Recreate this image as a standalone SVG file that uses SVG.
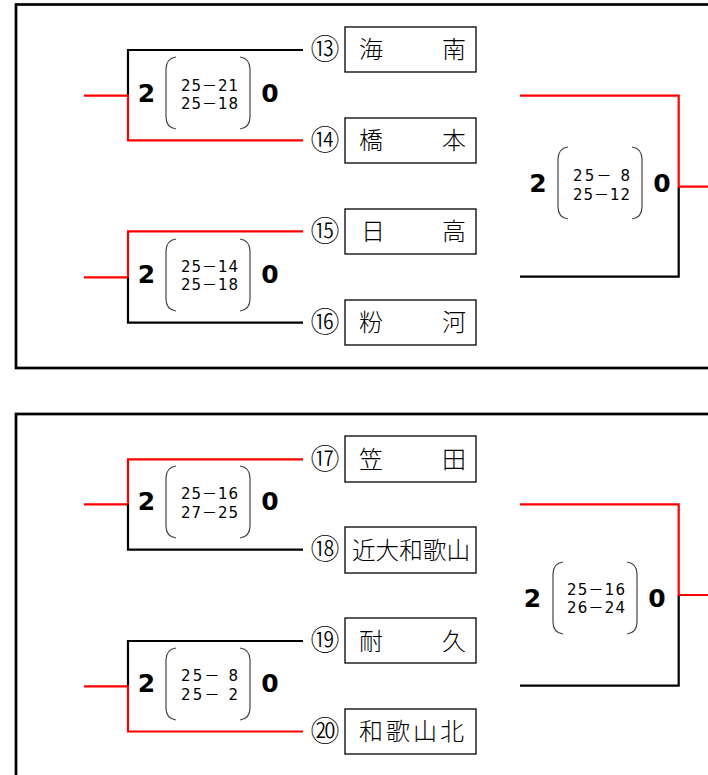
<svg xmlns="http://www.w3.org/2000/svg" width="708" height="775" viewBox="0 0 708 775">
<style>
.frame{fill:none;stroke:#000;stroke-width:2.7}
.box{fill:#fff;stroke:#000;stroke-width:1.3}
.team{font-family:"Noto Sans CJK JP","Noto Sans CJK SC",sans-serif;font-size:24px;font-weight:300;fill:#000}
.num{font-family:"Noto Sans CJK JP","Noto Sans CJK SC",serif;font-size:29px;font-weight:300;fill:#000;text-anchor:middle}
.ln{fill:none;stroke-width:2.2;stroke-linejoin:miter;stroke-linecap:butt}
.blk{stroke:#000}
.red{stroke:#ff0000}
.big{font-family:"DejaVu Sans",sans-serif;font-weight:bold;font-size:25px;fill:#000;text-anchor:middle}
.set{font-family:"DejaVu Sans","Noto Sans CJK JP",sans-serif;font-size:15px;fill:#000}
.par{fill:none;stroke:#444;stroke-width:1.2}
</style>
<defs>
<g id="parens">
<path class="par" d="M10 0 C3 1 0 5 0 12 L0 60 C0 67 3 71 10 72"/>
<path class="par" d="M74 0 C81 1 84 5 84 12 L84 60 C84 67 81 71 74 72"/>
</g>
</defs>
<rect class="frame" x="16" y="4.5" width="720" height="363.5"/>
<rect class="frame" x="16" y="414" width="720" height="400"/>

<g id="connectors">
<path class="ln blk" d="M303 50 H128 V95.7"/>
<path class="ln red" d="M84 95.7 H128 V140.3 H303"/>
<path class="ln red" d="M303 231.3 H128 V277.4 H84"/>
<path class="ln blk" d="M128 277.4 V322.7 H303"/>
<path class="ln blk" d="M520 276.7 H678.7 V186.7"/>
<path class="ln red" d="M520 95.7 H678.7 V186.7 H710"/>
<path class="ln red" d="M303 459.3 H128 V504.3 H84"/>
<path class="ln blk" d="M128 504.3 V549.7 H303"/>
<path class="ln blk" d="M303 641 H128 V686.3"/>
<path class="ln red" d="M84 686.3 H128 V731.5 H303"/>
<path class="ln blk" d="M520 685.7 H678.7 V595"/>
<path class="ln red" d="M520 504.3 H678.7 V595 H710"/>
</g>

<g id="team13"><text class="num" x="325" y="60">⑬</text><rect class="box" x="345" y="27" width="131" height="45"/><text class="team" x="359" y="58" textLength="107" lengthAdjust="spacing">海　　南</text></g>
<g id="team14"><text class="num" x="325" y="150.5">⑭</text><rect class="box" x="345" y="118" width="131" height="45"/><text class="team" x="359" y="149" textLength="107" lengthAdjust="spacing">橋　　本</text></g>
<g id="team15"><text class="num" x="325" y="241.5">⑮</text><rect class="box" x="345" y="209" width="131" height="45"/><text class="team" x="361" y="240" textLength="105" lengthAdjust="spacing">日　　高</text></g>
<g id="team16"><text class="num" x="325" y="333">⑯</text><rect class="box" x="345" y="300" width="131" height="45"/><text class="team" x="359" y="331" textLength="107" lengthAdjust="spacing">粉　　河</text></g>

<g id="team17"><text class="num" x="325" y="469.5">⑰</text><rect class="box" x="345" y="436" width="131" height="46"/><text class="team" x="359" y="467.5" textLength="107" lengthAdjust="spacing">笠　　田</text></g>
<g id="team18"><text class="num" x="325" y="560">⑱</text><rect class="box" x="345" y="527" width="131" height="46"/><text class="team" x="352" y="558.5" textLength="118" lengthAdjust="spacingAndGlyphs">近大和歌山</text></g>
<g id="team19"><text class="num" x="325" y="651">⑲</text><rect class="box" x="345" y="618" width="131" height="45"/><text class="team" x="359" y="649.5" textLength="107" lengthAdjust="spacing">耐　　久</text></g>
<g id="team20"><text class="num" x="325" y="742">⑳</text><rect class="box" x="345" y="709" width="131" height="45"/><text class="team" x="359" y="740" textLength="105" lengthAdjust="spacing">和歌山北</text></g>

<g id="score1">
<text class="big" x="146.5" y="101.7">2</text><use href="#parens" x="166" y="57"/>
<text class="set" x="181" y="90.5" textLength="57" lengthAdjust="spacing">25－21</text>
<text class="set" x="181" y="109" textLength="57" lengthAdjust="spacing">25－18</text>
<text class="big" x="270" y="101.7">0</text>
</g>
<g id="score2">
<text class="big" x="146.5" y="283.3">2</text><use href="#parens" x="166" y="239"/>
<text class="set" x="181" y="271.7" textLength="57" lengthAdjust="spacing">25－14</text>
<text class="set" x="181" y="290" textLength="57" lengthAdjust="spacing">25－18</text>
<text class="big" x="270" y="283.3">0</text>
</g>
<g id="score3">
<text class="big" x="538" y="192">2</text><use href="#parens" x="558" y="147"/>
<text class="set" x="573" y="181" textLength="57" lengthAdjust="spacing">25－ 8</text>
<text class="set" x="573" y="200" textLength="57" lengthAdjust="spacing">25－12</text>
<text class="big" x="662" y="192">0</text>
</g>
<g id="score4">
<text class="big" x="146.5" y="510">2</text><use href="#parens" x="166" y="466"/>
<text class="set" x="181" y="499" textLength="57" lengthAdjust="spacing">25－16</text>
<text class="set" x="181" y="518" textLength="57" lengthAdjust="spacing">27－25</text>
<text class="big" x="270" y="510">0</text>
</g>
<g id="score5">
<text class="big" x="146.5" y="692">2</text><use href="#parens" x="166" y="648"/>
<text class="set" x="181" y="680.7" textLength="57" lengthAdjust="spacing">25－ 8</text>
<text class="set" x="181" y="700" textLength="57" lengthAdjust="spacing">25－ 2</text>
<text class="big" x="270" y="692">0</text>
</g>
<g id="score6">
<text class="big" x="532.5" y="606.7">2</text><use href="#parens" x="553" y="562"/>
<text class="set" x="567" y="595" textLength="58" lengthAdjust="spacing">25－16</text>
<text class="set" x="567" y="613.3" textLength="58" lengthAdjust="spacing">26－24</text>
<text class="big" x="657" y="606.7">0</text>
</g>
</svg>
